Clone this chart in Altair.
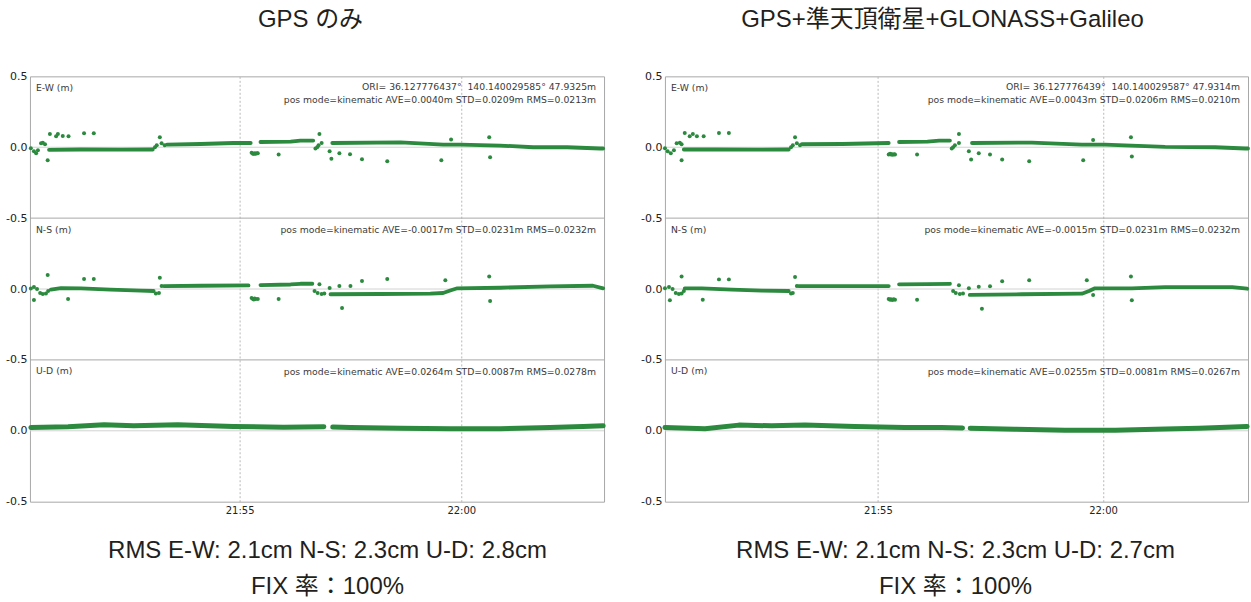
import altair as alt
import pandas as pd

# ---------------- data (minutes after 21:00, metres) ----------------
T0, T1 = 50.27, 63.22
GREEN = "#2b8a3e"

# ---- GPS only ----
L_EW_PTS = [(50.29,-0.007),(50.36,-0.028),(50.41,-0.042),(50.45,-0.021),(50.52,0.028),(50.56,0.032),(50.61,0.021),
            (50.67,-0.092),(50.72,0.094),(50.86,0.077),(50.90,0.094),(51.01,0.080),(51.14,0.077),(51.49,0.099),(51.71,0.099),
            (53.09,0.0),(53.13,0.014),(53.20,0.070),(53.24,0.028),(53.31,0.014),
            (55.27,-0.039),(55.30,-0.046),(55.32,-0.046),(55.34,-0.042),(55.36,-0.046),(55.39,-0.042),(55.41,-0.042),
            (55.88,-0.051),(56.71,-0.009),(56.75,0.0),(56.78,0.014),(56.85,0.030),(56.80,0.094),
            (57.03,-0.028),(57.07,-0.082),(57.25,-0.042),(57.49,-0.049),(57.76,-0.085),(58.33,-0.099),(59.55,-0.092),
            (59.77,0.054),(60.63,0.070),(60.65,-0.070)]
L_EW_BAND = [[(50.70,-0.018),(51.42,-0.016),(52.32,-0.017),(53.04,-0.016)],
             [(53.36,0.019),(54.12,0.023),(54.86,0.030),(55.25,0.030)],
             [(55.47,0.037),(56.15,0.040),(56.37,0.047),(56.66,0.047)],
             [(57.09,0.030),(58.63,0.035),(59.59,0.019),(59.98,0.019),(60.88,0.012),(61.62,0.0),(62.39,0.0),(63.13,-0.009),(63.20,-0.009)]]
L_NS_PTS = [(50.29,0.003),(50.36,0.014),(50.43,0.0),(50.36,-0.077),
            (50.50,-0.028),(50.56,-0.035),(50.63,-0.032),(50.68,-0.014),(50.67,0.099),
            (51.13,-0.070),(51.49,0.070),(51.71,0.070),
            (53.11,-0.032),(53.18,-0.028),(53.20,0.080),(53.24,0.021),
            (55.27,-0.063),(55.30,-0.070),(55.32,-0.074),(55.34,-0.066),(55.36,-0.070),(55.41,-0.070),
            (55.88,-0.070),(56.69,-0.014),(56.76,-0.028),(56.85,-0.035),(56.91,-0.032),
            (56.80,0.033),(57.03,0.007),(57.25,0.021),(57.31,-0.134),(57.50,0.021),(57.76,0.056),(58.33,0.070),
            (59.64,0.061),(60.63,0.089),(60.65,-0.085)]
L_NS_BAND = [[(50.74,-0.004),(50.97,0.007),(51.42,0.004),(52.09,-0.004),(52.77,-0.011),(53.06,-0.014)],
             [(53.29,0.021),(54.12,0.023),(55.20,0.025)],
             [(55.47,0.028),(56.15,0.032),(56.37,0.037),(56.64,0.037)],
             [(57.05,-0.037),(58.18,-0.035),(59.30,-0.033),(59.59,-0.028),(59.75,-0.011),(59.91,0.005),(60.88,0.009),(62.00,0.019),(62.97,0.023),(63.20,0.005)]]
L_UD_BAND = [[(50.29,0.023),(51.13,0.028),(51.94,0.042),(52.61,0.035),(53.60,0.042),(54.86,0.030),(55.99,0.025),(56.90,0.028)],
             [(57.10,0.026),(57.50,0.023),(58.63,0.018),(59.75,0.014),(60.88,0.014),(62.00,0.023),(62.75,0.030),(63.20,0.035)]]

# ---- GPS + QZSS + GLONASS + Galileo ----
R_EW_PTS = [(50.27,-0.007),(50.33,-0.028),(50.40,-0.042),(50.47,-0.021),(50.53,0.028),(50.60,0.032),(50.64,0.021),
            (50.64,-0.092),(50.71,0.100),(50.82,0.077),(50.89,0.094),(50.98,0.077),(51.13,0.077),(51.47,0.100),(51.69,0.100),
            (53.07,0.0),(53.11,0.014),(53.16,0.070),(53.20,0.028),(53.27,0.014),
            (55.24,-0.051),(55.27,-0.046),(55.29,-0.051),(55.31,-0.049),(55.33,-0.053),(55.36,-0.049),(55.38,-0.051),
            (55.87,-0.051),(56.64,-0.009),(56.67,0.0),(56.71,0.014),(56.80,0.030),(56.80,0.094),
            (57.02,-0.028),(57.07,-0.087),(57.24,-0.042),(57.49,-0.051),(57.76,-0.087),(58.36,-0.099),(59.56,-0.092),
            (59.78,0.051),(60.62,0.070),(60.64,-0.065)]
R_EW_BAND = [[(50.69,-0.016),(51.40,-0.016),(52.30,-0.017),(53.02,-0.016)],
             [(53.31,0.021),(54.20,0.023),(55.24,0.030)],
             [(55.47,0.037),(56.10,0.040),(56.36,0.047),(56.60,0.047)],
             [(57.09,0.030),(58.42,0.033),(59.53,0.019),(60.04,0.019),(61.38,0.002),(62.49,0.0),(63.16,-0.009),(63.22,-0.009)]]
R_NS_PTS = [(50.27,0.005),(50.36,0.014),(50.44,0.0),(50.38,-0.080),
            (50.51,-0.028),(50.58,-0.035),(50.64,-0.032),(50.69,-0.014),(50.64,0.089),
            (51.11,-0.075),(51.47,0.068),(51.69,0.068),
            (53.07,-0.032),(53.11,-0.028),(53.16,0.085),(53.20,0.021),
            (55.24,-0.070),(55.27,-0.075),(55.29,-0.073),(55.32,-0.077),(55.35,-0.073),(55.38,-0.075),
            (55.87,-0.075),(56.67,-0.014),(56.73,-0.028),(56.82,-0.035),(56.89,-0.032),
            (56.80,0.026),(57.02,0.005),(57.24,0.016),(57.31,-0.139),(57.49,0.019),(57.76,0.054),(58.36,0.061),
            (59.64,0.061),(59.78,-0.042),(60.62,0.089),(60.64,-0.080)]
R_NS_BAND = [[(50.71,0.005),(51.09,0.004),(51.76,-0.004),(52.42,-0.011),(53.02,-0.014)],
             [(53.24,0.021),(54.20,0.021),(55.24,0.021)],
             [(55.47,0.033),(56.10,0.035),(56.60,0.037)],
             [(57.04,-0.042),(58.20,-0.037),(59.53,-0.033),(59.69,-0.014),(59.82,0.005),(60.64,0.005),(61.38,0.014),(62.87,0.014),(63.20,0.002)]]
R_UD_BAND = [[(50.27,0.023),(51.16,0.014),(51.91,0.040),(52.64,0.035),(53.38,0.040),(54.49,0.030),(55.60,0.023),(56.42,0.023),(56.88,0.020)],
             [(57.05,0.018),(58.04,0.011),(59.16,0.004),(60.27,0.004),(61.38,0.012),(62.13,0.018),(63.20,0.030)]]

COMP_LABELS = ["E-W (m)", "N-S (m)", "U-D (m)"]
L_ORI = "ORI= 36.127776437°\u00a0 140.140029585° 47.9325m"
R_ORI = "ORI= 36.127776439°\u00a0 140.140029587° 47.9314m"
L_STATS = ["pos mode=kinematic AVE=0.0040m STD=0.0209m RMS=0.0213m",
           "pos mode=kinematic AVE=-0.0017m STD=0.0231m RMS=0.0232m",
           "pos mode=kinematic AVE=0.0264m STD=0.0087m RMS=0.0278m"]
R_STATS = ["pos mode=kinematic AVE=0.0043m STD=0.0206m RMS=0.0210m",
           "pos mode=kinematic AVE=-0.0015m STD=0.0231m RMS=0.0232m",
           "pos mode=kinematic AVE=0.0255m STD=0.0081m RMS=0.0267m"]
L_TITLE = "GPS のみ"
R_TITLE = "GPS+準天頂衛星+GLONASS+Galileo"
L_FOOT = ["RMS E-W: 2.1cm N-S: 2.3cm U-D: 2.8cm", "FIX 率：100%"]
R_FOOT = ["RMS E-W: 2.1cm N-S: 2.3cm U-D: 2.7cm", "FIX 率：100%"]

ZERO_LINES = [0.0, -1.0, -2.0]
SPLIT_LINES = [-0.5, -1.5]
Y_TICKS = [0.5, 0.0, -0.5, -1.0, -1.5, -2.0, -2.5]
X_TICKS = [55, 60]
BAND_WIDTHS = [3.8, 3.8, 5.0]   # E-W, N-S, U-D

H = 426
SMALL_FONT = "DejaVu Sans"
BIG_FONT = "Liberation Sans, Noto Sans CJK JP, sans-serif"


def panel(width, ew_pts, ew_band, ns_pts, ns_band, ud_band, ori, stats, title, foot, title_x, foot_x):
    pts = [{"t": t, "v": v, "k": k} for k, arr in enumerate([ew_pts, ns_pts]) for t, v in arr]
    band = [{"t": t, "v": v, "k": k, "w": BAND_WIDTHS[k], "seg": f"{k}-{s}"}
            for k, arr in enumerate([ew_band, ns_band, ud_band])
            for s, seg in enumerate(arr) for t, v in seg]

    xs = alt.Scale(domain=[T0, T1], nice=False, zero=False)
    ys = alt.Scale(domain=[-2.5, 0.5], nice=False, zero=False)
    xaxis = alt.Axis(values=X_TICKS,
                     labelExpr="floor(21 + datum.value/60) + ':' + (datum.value % 60 < 10 ? '0' : '') + (datum.value % 60)",
                     grid=True, gridColor="#b8b8b8", gridDash=[2, 2], ticks=False, domain=False, title=None,
                     labelFont=SMALL_FONT, labelFontSize=10, labelColor="#222", labelPadding=4)
    yaxis = alt.Axis(values=Y_TICKS,
                     labelExpr="datum.value == 0.5 ? '0.5' : (abs(datum.value - round(datum.value)) < 0.01 ? '0.0' : '-0.5')",
                     grid=False, ticks=False, domain=False, title=None,
                     labelFont=SMALL_FONT, labelFontSize=11, labelColor="#222", labelPadding=3)
    X = alt.X("t:Q", scale=xs, axis=xaxis)
    Y = alt.Y("yp:Q", scale=ys, axis=yaxis)

    zero_rules = alt.Chart(pd.DataFrame({"yp": ZERO_LINES})).mark_rule(
        color="#d2d2d2", strokeWidth=1).encode(y=Y)
    split_rules = alt.Chart(pd.DataFrame({"yp": SPLIT_LINES})).mark_rule(
        color="#a8a8a8", strokeWidth=1).encode(y=Y)

    lines = alt.Chart(pd.DataFrame(band)).transform_calculate(yp="datum.v - datum.k").mark_line(
        color=GREEN, strokeCap="round", strokeJoin="round").encode(
        x=X, y=Y, detail="seg:N", order="t:Q",
        strokeWidth=alt.StrokeWidth("w:Q", scale=None))
    dots = alt.Chart(pd.DataFrame(pts)).transform_calculate(yp="datum.v - datum.k").mark_circle(
        color=GREEN, size=16, opacity=1).encode(x=X, y=Y)

    lab_df = pd.DataFrame({"t": [T0] * 3, "yp": [0.5, -0.5, -1.5], "text": COMP_LABELS})
    labs = alt.Chart(lab_df).mark_text(align="left", baseline="middle", dx=6, dy=11.5,
                                       font=SMALL_FONT, fontSize=9.3, color="#3a3a3a").encode(
        x=X, y=Y, text="text:N")
    ori_df = pd.DataFrame({"t": [T1], "yp": [0.5], "text": [ori]})
    ori_t = alt.Chart(ori_df).mark_text(align="right", baseline="middle", dx=-8, dy=11,
                                        font=SMALL_FONT, fontSize=9.3, color="#3a3a3a").encode(
        x=X, y=Y, text="text:N")
    st_df = pd.DataFrame({"t": [T1] * 3, "yp": [0.5 - 12 / 142.0, -0.5, -1.5], "text": stats})
    st_t = alt.Chart(st_df).mark_text(align="right", baseline="middle", dx=-8, dy=12,
                                      font=SMALL_FONT, fontSize=9.3, color="#3a3a3a").encode(
        x=X, y=Y, text="text:N")

    ttl = alt.Chart(pd.DataFrame({"text": [title]})).mark_text(
        align="center", baseline="middle", font=BIG_FONT, fontSize=24, color="#231f20").encode(
        x=alt.value(title_x), y=alt.value(-56), text="text:N")
    ft = alt.Chart(pd.DataFrame({"text": foot, "yy": [475.5, 511.5]})).mark_text(
        align="center", baseline="middle", font=BIG_FONT, fontSize=24, color="#231f20").encode(
        x=alt.value(foot_x), y=alt.Y("yy:Q", scale=None), text="text:N")

    return alt.layer(zero_rules, split_rules, lines, dots, labs, ori_t, st_t, ttl, ft).properties(
        width=width, height=H)


left = panel(575, L_EW_PTS, L_EW_BAND, L_NS_PTS, L_NS_BAND, L_UD_BAND, L_ORI, L_STATS,
             L_TITLE, L_FOOT, 281, 298)
right = panel(584, R_EW_PTS, R_EW_BAND, R_NS_PTS, R_NS_BAND, R_UD_BAND, R_ORI, R_STATS,
              R_TITLE, R_FOOT, 278, 291)

chart = alt.hconcat(left, right, spacing=33).properties(
    padding={"left": 5, "top": 7, "right": 0, "bottom": 0},
    background="white").configure_view(stroke="#a8a8a8", strokeWidth=1)

chart.save("out.html", embed_options={"renderer": "svg", "actions": False})
